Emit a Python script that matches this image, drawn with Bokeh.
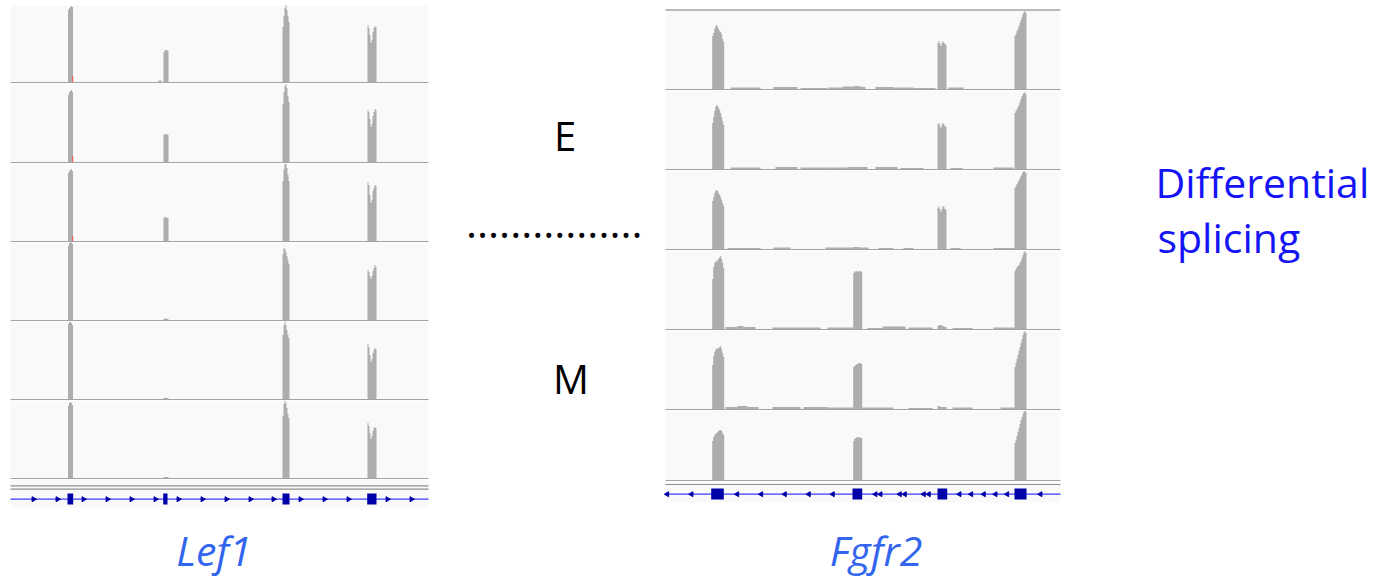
import math
from bokeh.plotting import figure
from bokeh.layouts import row, column
from bokeh.models import Range1d
from bokeh.embed import file_html
from bokeh.resources import INLINE
from bokeh.core.properties import value

# ---------------- Lef1 (x: position along locus, track units; y: read depth) -------------
LEF1_EXON_STARTS = [57.5, 153.0, 272.0, 357.0]
LEF1_T1 = [[72, 74, 75, 76, 75], [30, 32, 32, 32, 31], [55, 66, 74, 77, 72, 66, 60], [57, 54, 47, 39, 42, 50, 54, 56, 55]]
LEF1_T2 = [[67, 70, 71, 72, 70], [27, 28, 28, 28, 27], [58, 70, 76, 78, 74, 66, 60], [52, 50, 43, 35, 38, 46, 50, 53, 52]]
LEF1_T3 = [[68, 70, 71, 72, 70], [23, 24, 24, 23, 23], [60, 72, 77, 78, 73, 66, 60], [59, 56, 46, 38, 41, 50, 53, 56, 55]]
LEF1_T4 = [[74, 77, 78, 78, 76], [1, 1.5, 1.5, 1.5, 1], [66, 72, 71, 68, 64, 60, 56], [50, 48, 44, 41, 44, 49, 52, 55, 53]]
LEF1_T5 = [[75, 77, 77, 76, 74], [1, 1, 1, 1, 1], [64, 74, 78, 74, 69, 64, 61], [55, 52, 44, 37, 40, 46, 49, 51, 50]]
LEF1_T6 = [[72, 75, 76, 75, 73], [1, 1, 1, 1, 1], [62, 74, 78, 75, 70, 64, 60], [55, 52, 45, 39, 42, 47, 50, 51, 50]]
LEF1_LOW = [[[148, 151, 1.5]], [], [], [], [], []]
LEF1_MISMATCH = [6, 6, 5, 0, 0, 0]
LEF1_MISMATCH_POS = 61.8
LEF1_GENE_EXONS = [[57.0, 62.7], [152.7, 157.0], [272.0, 279.0], [356.7, 366.0]]
LEF1_ARROWS = [23, 47, 73, 97, 121, 145, 168, 192, 216, 240, 263, 290, 314, 338, 377, 401]

# ---------------- Fgfr2 ----------------
FGFR2_EXON_STARTS = [46.7, 187.7, 272.0, 349.0]
FGFR2_T1 = [[53, 56, 60, 63, 64, 62, 60, 58, 57, 55, 50, 47], [2.5, 3, 3, 3, 3, 2.5, 2.5, 2.5, 2.5],
            [46, 48, 45, 43, 46, 48, 46, 45, 44], [53, 55, 58, 60, 63, 66, 69, 72, 75, 77, 78, 76]]
FGFR2_T2 = [[46, 52, 58, 62, 64, 63, 61, 59, 56, 52, 48, 44], [2, 2, 2, 2, 2, 2, 2, 2, 2],
            [45, 46, 43, 41, 44, 46, 45, 43, 42], [56, 58, 60, 62, 64, 67, 70, 73, 75, 76, 77, 75]]
FGFR2_T3 = [[48, 52, 56, 58, 59, 58, 56, 54, 52, 49, 46, 43], [2, 2, 2, 2, 2, 2, 1.5, 1.5, 1.5],
            [41, 43, 40, 37, 40, 43, 42, 40, 39], [61, 63, 65, 67, 69, 71, 73, 75, 77, 78, 77, 76]]
FGFR2_T4 = [[50, 62, 66, 68, 67, 69, 70, 72, 73, 70, 66, 61], [56, 58, 57, 58, 58, 57, 58, 58, 57],
            [3, 4, 4, 4, 3.5, 3, 2.5, 2, 2], [58, 60, 62, 63, 64, 66, 68, 71, 74, 77, 78, 76]]
FGFR2_T5 = [[44, 53, 57, 59, 61, 60, 61, 62, 63, 60, 56, 52], [42, 43, 44, 45, 45, 46, 46, 46, 45],
            [3, 3, 2.5, 2, 2, 2, 2, 2, 2], [42, 46, 50, 54, 58, 62, 66, 70, 74, 77, 78, 76]]
FGFR2_T6 = [[39, 43, 45, 46, 47, 48, 49, 50, 50, 49, 47, 45], [39, 41, 42, 43, 42, 43, 43, 42, 42],
            [0, 0, 0, 0, 0, 0, 0, 0, 0], [37, 40, 44, 48, 52, 56, 60, 63, 66, 69, 70, 68]]
FGFR2_LOW = [
    [[65, 95, 1.5], [108, 132, 2], [135, 162, 1], [163, 177, 1.5], [177, 187.7, 2.5], [196.7, 200, 2],
     [210, 228, 2], [228, 248, 1.5], [248, 270, 1], [283, 298, 1.5]],
    [[65, 95, 1.5], [110, 132, 2], [135, 162, 1.5], [162, 182, 1.5], [182, 187.7, 2], [196.7, 202, 2],
     [210, 232, 2], [235, 258, 1], [285, 297, 1], [328, 348, 1.5]],
    [[62, 95, 1], [108, 125, 1.5], [160, 187.7, 1.5], [196.7, 203, 1.5], [213, 228, 1], [238, 248, 1],
     [285, 295, 1], [328, 349, 1]],
    [[60, 72, 2], [72, 78, 3], [78, 90, 2], [107, 155, 1.5], [162, 187.7, 1.5], [202, 217, 1],
     [217, 240, 2.5], [243, 267, 1.5], [287, 307, 1], [328, 349, 1.5]],
    [[60, 72, 2], [72, 82, 3], [82, 93, 2], [107, 135, 2], [138, 162, 2], [162, 187.7, 1.5],
     [196.7, 228, 1.5], [243, 267, 1], [287, 307, 1.5], [335, 349, 1.5]],
    [],
]
FGFR2_GENE_EXONS = [[45.7, 58.3], [187.0, 196.7], [272.0, 281.7], [349.0, 361.0]]
FGFR2_ARROWS = [1.7, 26, 71.7, 95.7, 119.3, 143.3, 167.3, 210, 215, 234.3, 239.3, 258.3, 263.3,
                294, 305.7, 318.3, 330, 341.7, 375]

GROUP_LABELS = ["E", "M"]
GENE_LABELS = ["Lef1", "Fgfr2"]
SIDE_LABEL = ["Differential", "splicing"]

COV = "#adadad"
BG = "#f9f9f9"
SEP = "#a3a3a3"
EXON = "#0000a8"
INTRON = "#3c3cff"
LABEL_BLUE = "#3366ee"
SIDE_BLUE = "#1414f5"
FONT = value("Open Sans")


def base_fig(width, height, xr, yr):
    p = figure(width=width, height=height, x_range=xr, y_range=yr,
               toolbar_location=None, output_backend="svg", min_border=0,
               x_axis_location=None, y_axis_location=None)
    p.outline_line_color = None
    p.grid.visible = False
    p.background_fill_color = "white"
    p.border_fill_color = "white"
    return p


def step_polys(starts, bins, low):
    xs, ys = [], []
    for s, vals in zip(starts, bins):
        px, py = [s], [0]
        for i, v in enumerate(vals):
            px += [s + i, s + i + 1]
            py += [v, v]
        px.append(s + len(vals))
        py.append(0)
        xs.append(px)
        ys.append(py)
    for a, b, v in low:
        xs.append([a, a, b, b])
        ys.append([0, v, v, 0])
    return xs, ys


def track_fig(width, xr, h, track_w, starts, bins, low, bg_top=None, top_line=None, mismatch=0, mm_pos=None):
    p = base_fig(width, h, Range1d(*xr), Range1d(-1.5, h - 1.5))
    if bg_top is None:
        bg_top = h - 1.5 if top_line is None else top_line - 0.75
    p.quad(left=0, right=track_w, bottom=0, top=bg_top, fill_color=BG, line_color=None)
    if top_line is not None:
        p.quad(left=0, right=track_w, bottom=top_line - 0.75, top=top_line + 0.75,
               fill_color=SEP, line_color=None)
    xs, ys = step_polys(starts, bins, low)
    p.patches(xs, ys, fill_color=COV, line_color=None)
    if mismatch:
        p.quad(left=mm_pos, right=mm_pos + 0.9, bottom=0, top=mismatch, fill_color="#ff3a3a", line_color=None)
    p.quad(left=0, right=track_w, bottom=-1.5, top=0, fill_color=SEP, line_color=None)
    return p


def gene_fig(width, xr, y0, y1, track_w, bg_bottom, lines, gene_y, exon_top, exon_bottom,
             exons, arrows, angle, label, label_x):
    p = base_fig(width, y1 - y0, Range1d(*xr), Range1d(y1, y0))
    p.quad(left=0, right=track_w, top=y0, bottom=bg_bottom, fill_color=BG, line_color=None)
    for ly in lines:
        p.quad(left=0, right=track_w, top=ly - 0.6, bottom=ly + 0.6, fill_color="#8f8f8f", line_color=None)
    p.segment(x0=[0], y0=[gene_y], x1=[track_w], y1=[gene_y], line_color=INTRON, line_width=1.2)
    p.scatter(x=arrows, y=[gene_y] * len(arrows), marker="triangle", angle=angle, size=5,
              fill_color=EXON, line_color=EXON)
    p.quad(left=[e[0] for e in exons], right=[e[1] for e in exons], top=exon_top, bottom=exon_bottom,
           fill_color=EXON, line_color=None)
    p.text(x=[label_x], y=[549.5], text=[label], text_font=FONT, text_font_style="italic",
           text_font_size="41px", text_color=LABEL_BLUE, text_align="center", text_baseline="alphabetic")
    return p


# ---- Lef1 column (page x 0..438) ----
lef1_xr = (-10, 428)
lef1_w = 418
lef1_tracks = [LEF1_T1, LEF1_T2, LEF1_T3, LEF1_T4, LEF1_T5, LEF1_T6]
lef1_heights = [83, 80, 79, 79, 79, 79]
lef1_col = []
for i, (tr, h) in enumerate(zip(lef1_tracks, lef1_heights)):
    lef1_col.append(track_fig(438, lef1_xr, h, lef1_w, LEF1_EXON_STARTS, tr, LEF1_LOW[i],
                              bg_top=76.5 if i == 0 else None,
                              mismatch=LEF1_MISMATCH[i], mm_pos=LEF1_MISMATCH_POS))
lef1_col.append(gene_fig(438, lef1_xr, 479, 577, lef1_w, 507, [485.3, 488.7], 498.7, 493, 504,
                         LEF1_GENE_EXONS, LEF1_ARROWS, -math.pi / 2, GENE_LABELS[0], 203.5))

# ---- middle (E / M) ----
mid = base_fig(222, 577, Range1d(438, 660), Range1d(577, 0))
mid.text(x=[564.5, 570.5], y=[135, 377.5], text=GROUP_LABELS, text_font=FONT, text_font_size="40px",
         text_color="black", text_align="center", text_baseline="alphabetic")
mid.text(x=[465.5], y=[222.5], text=["................"], text_font=FONT, text_font_size="42px",
         text_color="black", text_align="left", text_baseline="alphabetic")

# ---- Fgfr2 column (page x 660..1070) ----
fg_xr = (-5, 405)
fg_w = 395
fg_tracks = [FGFR2_T1, FGFR2_T2, FGFR2_T3, FGFR2_T4, FGFR2_T5, FGFR2_T6]
fg_heights = [90, 80, 80, 80, 80, 71]
fg_col = []
for i, (tr, h) in enumerate(zip(fg_tracks, fg_heights)):
    fg_col.append(track_fig(410, fg_xr, h, fg_w, FGFR2_EXON_STARTS, tr, FGFR2_LOW[i],
                            top_line=79 if i == 0 else None))
fg_col.append(gene_fig(410, fg_xr, 481, 577, fg_w, 502, [484], 493.7, 488, 499,
                       FGFR2_GENE_EXONS, FGFR2_ARROWS, math.pi / 2, GENE_LABELS[1], 210.5))

# ---- right text ----
right = base_fig(318, 577, Range1d(1070, 1388), Range1d(577, 0))
right.text(x=[1155, 1157], y=[181.3, 236], text=SIDE_LABEL, text_font=FONT, text_font_size="41px",
           text_color=SIDE_BLUE, text_align="left", text_baseline="alphabetic")

layout = row(column(*lef1_col, spacing=0), mid, column(*fg_col, spacing=0), right, spacing=0)

open("out.html", "w").write(file_html(layout, INLINE))
